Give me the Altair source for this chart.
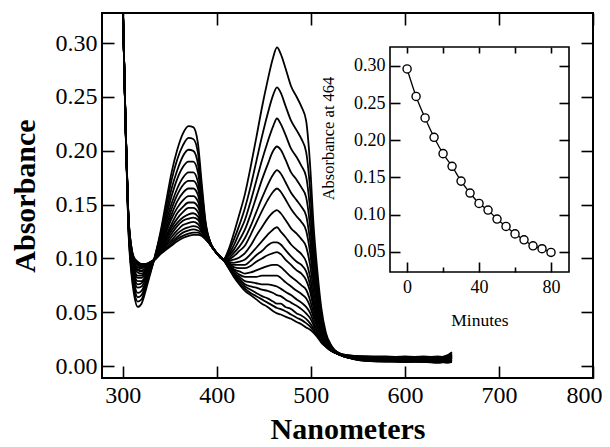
import altair as alt
import pandas as pd

FONT = "Liberation Serif"
W, H = 491, 365

# ---------------- inset data (absorbance at 464 nm vs time) ----------------
minutes = [0, 5, 10, 15, 20, 25, 30, 35, 40, 45, 50, 55, 60, 65, 70, 75, 80]
abs_464_inset = [0.296, 0.259, 0.230, 0.204, 0.182, 0.165, 0.145, 0.129, 0.115,
                 0.106, 0.094, 0.084, 0.074, 0.066, 0.058, 0.054, 0.049]

# ---------------- spectra: one list per wavelength, 17 scans (0..80 min) ----
wavelengths = [300, 303, 306, 309, 312, 316, 320, 325, 330, 334, 340, 346, 352,
               358, 364, 370, 375, 380, 384, 388, 394, 400, 407, 412, 418, 424,
               430, 436, 442, 448, 454, 460, 464, 468, 473, 479, 485, 490, 495,
               499, 503, 507, 511, 516, 522, 530, 540, 560, 580, 600, 620, 635,
               645, 650]

a300 = [0.340, 0.340, 0.340, 0.340, 0.340, 0.340, 0.340, 0.340, 0.340, 0.340, 0.340, 0.340, 0.340, 0.340, 0.340, 0.340, 0.340]
a303 = [0.225, 0.225, 0.225, 0.225, 0.226, 0.226, 0.226, 0.226, 0.227, 0.227, 0.227, 0.227, 0.227, 0.228, 0.228, 0.228, 0.228]
a306 = [0.128, 0.130, 0.131, 0.133, 0.134, 0.135, 0.136, 0.137, 0.138, 0.139, 0.139, 0.140, 0.140, 0.141, 0.141, 0.142, 0.142]
a309 = [0.088, 0.091, 0.093, 0.096, 0.098, 0.100, 0.102, 0.103, 0.105, 0.106, 0.107, 0.108, 0.109, 0.110, 0.111, 0.112, 0.112]
a312 = [0.067, 0.071, 0.075, 0.078, 0.081, 0.084, 0.086, 0.089, 0.091, 0.093, 0.094, 0.096, 0.097, 0.098, 0.099, 0.100, 0.101]
a316 = [0.055, 0.060, 0.064, 0.068, 0.073, 0.076, 0.079, 0.082, 0.084, 0.087, 0.089, 0.090, 0.092, 0.094, 0.095, 0.096, 0.097]
a320 = [0.058, 0.062, 0.066, 0.070, 0.074, 0.077, 0.079, 0.082, 0.084, 0.086, 0.088, 0.089, 0.091, 0.092, 0.093, 0.094, 0.095]
a325 = [0.072, 0.075, 0.077, 0.079, 0.082, 0.084, 0.085, 0.087, 0.088, 0.089, 0.090, 0.091, 0.092, 0.093, 0.094, 0.095, 0.095]
a330 = [0.088, 0.089, 0.090, 0.091, 0.092, 0.093, 0.093, 0.094, 0.094, 0.095, 0.095, 0.096, 0.096, 0.096, 0.097, 0.097, 0.097]
a334 = [0.101, 0.101, 0.101, 0.100, 0.100, 0.100, 0.100, 0.100, 0.100, 0.100, 0.099, 0.099, 0.099, 0.099, 0.099, 0.099, 0.099]
a340 = [0.124, 0.122, 0.120, 0.118, 0.116, 0.114, 0.113, 0.111, 0.110, 0.109, 0.108, 0.107, 0.106, 0.106, 0.105, 0.104, 0.104]
a346 = [0.152, 0.147, 0.142, 0.138, 0.134, 0.130, 0.127, 0.124, 0.121, 0.119, 0.117, 0.115, 0.113, 0.112, 0.110, 0.109, 0.108]
a352 = [0.180, 0.173, 0.165, 0.158, 0.151, 0.146, 0.141, 0.137, 0.132, 0.129, 0.126, 0.123, 0.120, 0.117, 0.115, 0.113, 0.112]
a358 = [0.201, 0.192, 0.182, 0.174, 0.165, 0.159, 0.153, 0.147, 0.142, 0.137, 0.133, 0.130, 0.126, 0.123, 0.120, 0.118, 0.116]
a364 = [0.216, 0.205, 0.195, 0.185, 0.175, 0.168, 0.161, 0.154, 0.148, 0.143, 0.138, 0.135, 0.131, 0.127, 0.124, 0.121, 0.119]
a370 = [0.223, 0.212, 0.201, 0.190, 0.180, 0.172, 0.165, 0.158, 0.152, 0.147, 0.141, 0.137, 0.133, 0.129, 0.126, 0.123, 0.121]
a375 = [0.222, 0.211, 0.200, 0.190, 0.180, 0.172, 0.165, 0.158, 0.152, 0.147, 0.142, 0.138, 0.134, 0.130, 0.127, 0.124, 0.122]
a380 = [0.207, 0.198, 0.188, 0.180, 0.171, 0.165, 0.159, 0.153, 0.148, 0.143, 0.139, 0.136, 0.132, 0.129, 0.126, 0.124, 0.122]
a384 = [0.170, 0.165, 0.159, 0.154, 0.149, 0.146, 0.142, 0.139, 0.136, 0.133, 0.131, 0.129, 0.127, 0.125, 0.124, 0.122, 0.121]
a388 = [0.135, 0.133, 0.131, 0.130, 0.128, 0.127, 0.125, 0.124, 0.123, 0.122, 0.121, 0.121, 0.120, 0.119, 0.119, 0.118, 0.118]
a394 = [0.113, 0.113, 0.113, 0.113, 0.113, 0.112, 0.112, 0.112, 0.112, 0.112, 0.112, 0.112, 0.112, 0.112, 0.112, 0.112, 0.112]
a400 = [0.105, 0.105, 0.105, 0.105, 0.105, 0.105, 0.105, 0.105, 0.105, 0.105, 0.105, 0.105, 0.105, 0.105, 0.105, 0.105, 0.105]
a407 = [0.099, 0.099, 0.099, 0.099, 0.099, 0.099, 0.099, 0.099, 0.099, 0.099, 0.099, 0.099, 0.099, 0.099, 0.099, 0.099, 0.099]
a412 = [0.107, 0.105, 0.103, 0.102, 0.100, 0.099, 0.098, 0.097, 0.096, 0.096, 0.095, 0.094, 0.094, 0.093, 0.093, 0.092, 0.092]
a418 = [0.123, 0.117, 0.112, 0.108, 0.105, 0.102, 0.099, 0.096, 0.094, 0.092, 0.090, 0.089, 0.087, 0.086, 0.085, 0.084, 0.083]
a424 = [0.141, 0.131, 0.124, 0.117, 0.111, 0.107, 0.101, 0.097, 0.094, 0.091, 0.088, 0.085, 0.083, 0.081, 0.079, 0.077, 0.076]
a430 = [0.160, 0.147, 0.136, 0.127, 0.119, 0.112, 0.105, 0.099, 0.094, 0.091, 0.086, 0.083, 0.079, 0.076, 0.074, 0.072, 0.070]
a436 = [0.185, 0.167, 0.153, 0.141, 0.130, 0.122, 0.112, 0.104, 0.098, 0.093, 0.087, 0.083, 0.078, 0.074, 0.071, 0.068, 0.066]
a442 = [0.212, 0.190, 0.172, 0.157, 0.143, 0.133, 0.121, 0.110, 0.103, 0.097, 0.089, 0.083, 0.077, 0.073, 0.068, 0.065, 0.062]
a448 = [0.240, 0.213, 0.191, 0.173, 0.156, 0.144, 0.129, 0.116, 0.107, 0.100, 0.091, 0.084, 0.076, 0.071, 0.065, 0.062, 0.058]
a454 = [0.265, 0.234, 0.208, 0.187, 0.168, 0.154, 0.137, 0.122, 0.112, 0.103, 0.093, 0.084, 0.076, 0.070, 0.063, 0.059, 0.055]
a460 = [0.287, 0.252, 0.223, 0.200, 0.178, 0.162, 0.143, 0.127, 0.115, 0.105, 0.094, 0.084, 0.075, 0.068, 0.060, 0.056, 0.051]
a464 = [0.296, 0.259, 0.230, 0.204, 0.182, 0.165, 0.145, 0.129, 0.115, 0.106, 0.094, 0.084, 0.074, 0.066, 0.058, 0.054, 0.049]
a468 = [0.290, 0.254, 0.225, 0.201, 0.179, 0.162, 0.142, 0.125, 0.113, 0.104, 0.092, 0.082, 0.072, 0.065, 0.058, 0.053, 0.048]
a473 = [0.277, 0.242, 0.215, 0.192, 0.171, 0.155, 0.136, 0.120, 0.108, 0.099, 0.088, 0.078, 0.069, 0.062, 0.055, 0.051, 0.046]
a479 = [0.260, 0.228, 0.202, 0.180, 0.161, 0.146, 0.128, 0.113, 0.102, 0.094, 0.083, 0.074, 0.066, 0.059, 0.053, 0.048, 0.044]
a485 = [0.250, 0.219, 0.194, 0.173, 0.154, 0.139, 0.123, 0.108, 0.097, 0.089, 0.079, 0.070, 0.062, 0.056, 0.049, 0.045, 0.041]
a490 = [0.241, 0.211, 0.186, 0.166, 0.148, 0.134, 0.118, 0.104, 0.094, 0.086, 0.075, 0.067, 0.059, 0.053, 0.047, 0.043, 0.039]
a495 = [0.228, 0.199, 0.176, 0.157, 0.140, 0.126, 0.111, 0.097, 0.088, 0.080, 0.071, 0.063, 0.055, 0.049, 0.044, 0.040, 0.036]
a499 = [0.190, 0.167, 0.148, 0.132, 0.118, 0.107, 0.095, 0.084, 0.076, 0.070, 0.062, 0.056, 0.050, 0.045, 0.040, 0.037, 0.034]
a503 = [0.130, 0.115, 0.103, 0.093, 0.085, 0.078, 0.070, 0.063, 0.058, 0.054, 0.049, 0.045, 0.041, 0.038, 0.035, 0.033, 0.031]
a507 = [0.088, 0.079, 0.072, 0.065, 0.060, 0.056, 0.051, 0.047, 0.044, 0.041, 0.038, 0.036, 0.033, 0.031, 0.029, 0.028, 0.027]
a511 = [0.055, 0.050, 0.046, 0.043, 0.040, 0.038, 0.035, 0.033, 0.031, 0.030, 0.028, 0.027, 0.025, 0.024, 0.023, 0.023, 0.022]
a516 = [0.031, 0.029, 0.027, 0.026, 0.025, 0.024, 0.023, 0.022, 0.022, 0.021, 0.020, 0.020, 0.019, 0.019, 0.019, 0.018, 0.018]
a522 = [0.019, 0.018, 0.018, 0.017, 0.017, 0.016, 0.016, 0.016, 0.015, 0.015, 0.015, 0.015, 0.015, 0.014, 0.014, 0.014, 0.014]
a530 = [0.012, 0.012, 0.012, 0.012, 0.012, 0.012, 0.011, 0.011, 0.011, 0.011, 0.011, 0.011, 0.011, 0.011, 0.011, 0.011, 0.011]
a540 = [0.010, 0.010, 0.010, 0.009, 0.009, 0.009, 0.009, 0.009, 0.008, 0.008, 0.008, 0.008, 0.008, 0.008, 0.008, 0.008, 0.008]
a560 = [0.009, 0.009, 0.008, 0.008, 0.008, 0.007, 0.007, 0.007, 0.007, 0.006, 0.006, 0.006, 0.006, 0.006, 0.005, 0.005, 0.005]
a580 = [0.009, 0.008, 0.008, 0.008, 0.007, 0.007, 0.007, 0.006, 0.006, 0.006, 0.006, 0.005, 0.005, 0.005, 0.005, 0.005, 0.004]
a600 = [0.008, 0.009, 0.007, 0.008, 0.007, 0.006, 0.007, 0.006, 0.005, 0.006, 0.005, 0.005, 0.004, 0.005, 0.004, 0.005, 0.004]
a620 = [0.009, 0.008, 0.008, 0.007, 0.008, 0.007, 0.006, 0.007, 0.006, 0.005, 0.006, 0.005, 0.005, 0.004, 0.005, 0.004, 0.004]
a635 = [0.008, 0.009, 0.007, 0.008, 0.006, 0.007, 0.007, 0.005, 0.006, 0.006, 0.004, 0.005, 0.005, 0.004, 0.004, 0.005, 0.003]
a645 = [0.010, 0.008, 0.009, 0.007, 0.008, 0.006, 0.007, 0.006, 0.005, 0.006, 0.005, 0.004, 0.005, 0.004, 0.005, 0.003, 0.004]
a650 = [0.013, 0.011, 0.012, 0.010, 0.010, 0.009, 0.009, 0.008, 0.008, 0.007, 0.007, 0.006, 0.006, 0.005, 0.005, 0.004, 0.004]

columns = [a300, a303, a306, a309, a312, a316, a320, a325, a330, a334, a340,
           a346, a352, a358, a364, a370, a375, a380, a384, a388, a394, a400,
           a407, a412, a418, a424, a430, a436, a442, a448, a454, a460, a464,
           a468, a473, a479, a485, a490, a495, a499, a503, a507, a511, a516,
           a522, a530, a540, a560, a580, a600, a620, a635, a645, a650]

# tick / label values
x_vals = [300, 400, 500, 600, 700, 800]
y_vals = [0.0, 0.05, 0.10, 0.15, 0.20, 0.25, 0.30]
inset_x_major = [0, 40, 80]
inset_x_minor = [20, 60]
inset_x_all = [0, 20, 40, 60, 80]
inset_y_vals = [0.05, 0.10, 0.15, 0.20, 0.25, 0.30]

rows = []
for w, col in zip(wavelengths, columns):
    for m, v in zip(minutes, col):
        rows.append({"nm": w, "A": v, "scan": m})
spectra_df = pd.DataFrame(rows)
inset_df = pd.DataFrame({"minutes": minutes, "absorbance": abs_464_inset})
frame_df = pd.DataFrame({"x0": [-9.5], "x1": [90.0], "y0": [0.0227], "y1": [0.3255]})
dummy_main = pd.DataFrame({"nm": [500.0], "A": [0.1]})
dummy_inset = pd.DataFrame({"minutes": [40.0]})

# scales
xs_main = alt.Scale(domain=[278, 800], nice=False, zero=False)
ys_main = alt.Scale(domain=[-0.011, 0.328], nice=False, zero=False)
xs_in = alt.Scale(domain=[-9.5, 90.0], range=[288, 467], nice=False, zero=False)
ys_in = alt.Scale(domain=[0.0227, 0.3255], range=[259, 34], nice=False, zero=False)


def tick_axis(orient, values, size, shift):
    # axis pushed inside the frame so its outward ticks become inward ticks
    return alt.Axis(orient=orient, values=values, ticks=True, tickSize=size,
                    tickWidth=1.6, tickColor="black", labels=False, domain=False,
                    grid=False, title=None, offset=-(shift + size), zindex=2)


spectra = alt.Chart(spectra_df).mark_line(
    color="black", strokeWidth=1.8, interpolate="monotone", clip=True
).encode(
    x=alt.X("nm:Q", scale=xs_main, axis=alt.Axis(
        orient="bottom", values=x_vals, format="d", ticks=False, domain=False,
        grid=False, labelFontSize=24, labelPadding=5,
        labelFlush=True, labelFlushOffset=9,
        title="Nanometers", titleFontSize=30, titleFontWeight="bold",
        titleY=60, titleBaseline="alphabetic")),
    y=alt.Y("A:Q", scale=ys_main, axis=alt.Axis(
        orient="left", values=y_vals, format=".2f", ticks=False, domain=False,
        grid=False, labelFontSize=24, labelPadding=5,
        title="Absorbance", titleFontSize=30, titleFontWeight="bold",
        titleX=-68, titleBaseline="alphabetic")),
    detail="scan:N",
)

main_ticks_a = alt.Chart(dummy_main).mark_point(opacity=0).encode(
    x=alt.X("nm:Q", scale=xs_main, axis=tick_axis("bottom", x_vals, 12, 0)),
    y=alt.Y("A:Q", scale=ys_main, axis=tick_axis("left", y_vals, 12, 0)),
)
main_ticks_b = alt.Chart(dummy_main).mark_point(opacity=0).encode(
    x=alt.X("nm:Q", scale=xs_main, axis=tick_axis("top", x_vals, 12, 0)),
    y=alt.Y("A:Q", scale=ys_main, axis=tick_axis("right", y_vals, 12, 0)),
)

inset_frame = alt.Chart(frame_df).mark_rect(
    fillOpacity=0, stroke="black", strokeWidth=1.6
).encode(
    x=alt.X("x0:Q", scale=xs_in, axis=tick_axis("bottom", inset_x_major, 10, H - 259)),
    x2="x1:Q",
    y=alt.Y("y0:Q", scale=ys_in, axis=tick_axis("left", inset_y_vals, 10, 288)),
    y2="y1:Q",
)

inset_line = alt.Chart(inset_df).mark_line(
    color="black", strokeWidth=1.3, interpolate="monotone"
).encode(
    x=alt.X("minutes:Q", scale=xs_in, axis=alt.Axis(
        orient="bottom", offset=-(H - 259), values=inset_x_major, format="d",
        ticks=False, domain=False, grid=False, labelFontSize=18, labelPadding=6,
        title="Minutes", titleFontSize=17.5, titleFontWeight="normal",
        titleY=53, titleBaseline="alphabetic")),
    y=alt.Y("absorbance:Q", scale=ys_in, axis=alt.Axis(
        orient="left", offset=-288, values=inset_y_vals, format=".2f",
        ticks=False, domain=False, grid=False, labelFontSize=18, labelPadding=5,
        title="Absorbance at 464", titleFontSize=16.5, titleFontWeight="normal",
        titleX=-62, titleY=125, titleBaseline="middle")),
)

inset_points = alt.Chart(inset_df).mark_point(
    shape="circle", size=66, filled=True, fill="white", stroke="black",
    strokeWidth=1.4, opacity=1
).encode(
    x=alt.X("minutes:Q", scale=xs_in, axis=tick_axis("top", inset_x_all, 6, 34)),
    y=alt.Y("absorbance:Q", scale=ys_in, axis=tick_axis("right", inset_y_vals, 10, W - 467)),
)

inset_minor = alt.Chart(dummy_inset).mark_point(opacity=0).encode(
    x=alt.X("minutes:Q", scale=xs_in, axis=tick_axis("bottom", inset_x_minor, 5, H - 259)),
)

chart = alt.layer(
    spectra, main_ticks_a, main_ticks_b, inset_frame, inset_line, inset_points, inset_minor
).resolve_scale(
    x="independent", y="independent"
).resolve_axis(
    x="independent", y="independent"
).properties(
    width=W, height=H,
    autosize=alt.AutoSizeParams(type="none"),
    padding={"left": 94, "top": 5, "right": 9, "bottom": 70},
    background="white",
).configure_view(
    stroke="black", strokeWidth=2
).configure_axis(
    labelFont=FONT, titleFont=FONT, labelColor="black", titleColor="black",
    labelFlush=False, labelOverlap=False,
)

chart.save("out.html", embed_options={"renderer": "svg", "actions": False})
